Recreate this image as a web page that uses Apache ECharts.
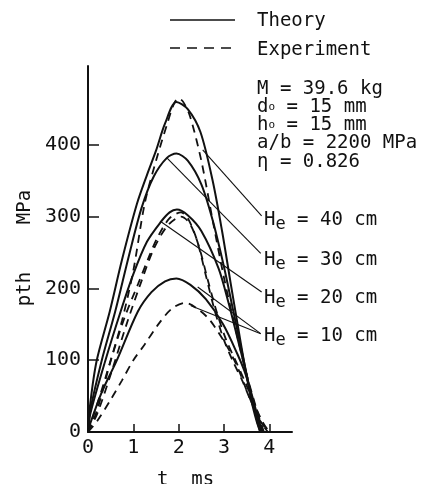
<!DOCTYPE html>
<html>
<head>
<meta charset="utf-8">
<script src="https://cdn.jsdelivr.net/npm/echarts@6/dist/echarts.min.js"></script>
<style>
  html, body { margin: 0; padding: 0; background: #fff; }
  #chart { width: 422px; height: 484px; }
</style>
</head>
<body>
<div id="chart"></div>
<script>
// t (ms), p_th (MPa)
var theory40 = [[0,0],[0.05,40],[0.19,99],[0.48,168],[0.75,240],[1.08,318],[1.3,358],[1.5,392],[1.7,430],[1.95,460],[2.2,450],[2.48,418],[2.75,350],[2.96,279],[3.14,210],[3.3,150],[3.45,95],[3.6,45],[3.72,15],[3.8,0]];
var theory30 = [[0,0],[0.05,30],[0.3,99],[0.6,168],[0.9,245],[1.18,312],[1.45,356],[1.74,382],[1.95,388],[2.2,378],[2.5,345],[2.75,295],[3.0,230],[3.2,170],[3.45,95],[3.6,50],[3.72,18],[3.8,0]];
var theory20 = [[0,0],[0.05,25],[0.38,99],[0.72,168],[1.0,220],[1.3,265],[1.61,293],[1.8,306],[1.96,310],[2.2,302],[2.5,280],[2.88,228],[3.1,180],[3.3,130],[3.45,92],[3.6,52],[3.72,20],[3.82,0]];
var theory10 = [[0,0],[0.05,12],[0.3,55],[0.63,99],[1.1,168],[1.4,195],[1.7,210],[1.95,214],[2.26,205],[2.6,185],[2.98,150],[3.3,108],[3.45,85],[3.6,55],[3.75,20],[3.85,0]];

var exp40 = [[0,0],[0.25,48],[0.5,100],[0.75,155],[1.0,225],[1.25,318],[1.5,378],[1.75,430],[1.9,458],[2.0,465],[2.1,460],[2.25,440],[2.5,378],[2.75,295],[3.0,215],[3.25,145],[3.5,80],[3.75,25],[3.88,0]];
var exp30 = [[0,0],[0.2,30],[0.5,99],[0.81,160],[1.11,207],[1.35,245],[1.54,272],[1.8,298],[2.05,306],[2.2,298],[2.4,268],[2.6,218],[2.8,168],[3.0,128],[3.2,98],[3.4,72],[3.6,42],[3.8,15],[3.97,0]];
var exp20 = [[0,0],[0.2,25],[0.5,80],[0.85,150],[1.15,205],[1.45,255],[1.75,287],[2.05,300],[2.25,290],[2.45,258],[2.65,210],[2.85,165],[3.05,128],[3.25,100],[3.45,72],[3.65,42],[3.85,14],[4.0,0]];
var exp10 = [[0,0],[0.2,15],[0.5,45],[0.75,72],[1.0,100],[1.25,122],[1.55,150],[1.85,172],[2.15,180],[2.45,170],[2.7,155],[3.07,119],[3.3,90],[3.55,50],[3.8,15],[4.0,0]];

var xTicks = [0, 1, 2, 3, 4];
var yTicks = [0, 100, 200, 300, 400];

// leader lines: [from, to] in data units
var leaders = [
    [[2.53, 393], [3.83, 301]],
    [[1.74, 382], [3.81, 249]],
    [[1.61, 293], [3.83, 195]],
    [[2.42, 202], [3.81, 137]],
    [[2.27, 176], [3.81, 137]]
];

var heLabels = ['40', '30', '20', '10'];
var paramLines = [
    '{a|M = 39.6 kg}',
    '{a|d}{o|o}{a| = 15 mm}',
    '{a|h}{o|o}{a| = 15 mm}',
    '{a|a/b = 2200 MPa}',
    '{a|η = 0.826}'
];

var FONT = '"DejaVu Sans Mono", monospace';
var INK = '#111';

var chart = echarts.init(document.getElementById('chart'));

function curve(data, dashed) {
    return {
        type: 'line',
        data: data,
        smooth: 0.3,
        symbol: 'none',
        silent: true,
        lineStyle: {
            color: INK,
            width: dashed ? 1.8 : 2,
            type: dashed ? [8, 6] : 'solid'
        }
    };
}

var series = [
    curve(theory40, false), curve(theory30, false), curve(theory20, false), curve(theory10, false),
    curve(exp40, true), curve(exp30, true), curve(exp20, true), curve(exp10, true)
];

// leader lines as markLine on an empty series
series.push({
    type: 'line',
    data: [],
    markLine: {
        silent: true,
        symbol: 'none',
        label: { show: false },
        lineStyle: { color: INK, width: 1.1, type: 'solid' },
        data: leaders.map(function (l) {
            return [{ coord: l[0] }, { coord: l[1] }];
        })
    }
});

var graphics = [];
// legend
graphics.push({ type: 'line', shape: { x1: 170, y1: 20, x2: 235, y2: 20 }, style: { stroke: INK, lineWidth: 1.5 } });
graphics.push({ type: 'line', shape: { x1: 170, y1: 48, x2: 235, y2: 48 }, style: { stroke: INK, lineWidth: 1.5, lineDash: [10, 7] } });
graphics.push({ type: 'text', x: 257, y: 21, style: { text: 'Theory', font: '19px ' + FONT, fill: INK, verticalAlign: 'middle' } });
graphics.push({ type: 'text', x: 257, y: 50, style: { text: 'Experiment', font: '19px ' + FONT, fill: INK, verticalAlign: 'middle' } });

// parameter block
var paramY = [89, 107, 125, 143, 162];
paramLines.forEach(function (s, i) {
    graphics.push({
        type: 'text', x: 257, y: paramY[i],
        style: {
            text: s, fill: INK, verticalAlign: 'middle',
            rich: {
                a: { fontFamily: FONT, fontSize: 19, fill: INK },
                o: { fontFamily: FONT, fontSize: 11, fill: INK }
            }
        }
    });
});

// He labels
var heY = [221, 261, 299, 337];
heLabels.forEach(function (v, i) {
    graphics.push({
        type: 'text', x: 264, y: heY[i] - 12,
        style: {
            text: '{a|H}{e|e}{a| = ' + v + ' cm}', fill: INK,
            rich: {
                a: { fontFamily: FONT, fontSize: 19, lineHeight: 22, fill: INK },
                e: { fontFamily: FONT, fontSize: 17, lineHeight: 17, padding: [10, 0, 0, 0], fill: INK }
            }
        }
    });
});

// axis names
graphics.push({ type: 'text', x: 25, y: 289, rotation: Math.PI / 2, style: { text: 'pth', font: '19px ' + FONT, fill: INK, align: 'center', verticalAlign: 'middle' } });
graphics.push({ type: 'text', x: 25, y: 207, rotation: Math.PI / 2, style: { text: 'MPa', font: '19px ' + FONT, fill: INK, align: 'center', verticalAlign: 'middle' } });
graphics.push({ type: 'text', x: 157, y: 480, style: { text: 't  ms', font: '19px ' + FONT, fill: INK, verticalAlign: 'middle' } });

var option = {
    animation: false,
    backgroundColor: '#fff',
    grid: { left: 88, right: 130, top: 66, bottom: 52 },
    xAxis: {
        type: 'value',
        min: 0,
        max: 4.5,
        interval: 0.5,
        splitLine: { show: false },
        axisLine: { lineStyle: { color: INK, width: 2 } },
        axisTick: { inside: true, length: 8, customValues: xTicks, lineStyle: { color: INK, width: 1.5 } },
        axisLabel: { customValues: xTicks, margin: 6, color: INK, fontFamily: FONT, fontSize: 20 }
    },
    yAxis: {
        type: 'value',
        min: 0,
        max: 510,
        splitLine: { show: false },
        axisLine: { show: true, lineStyle: { color: INK, width: 2 } },
        axisTick: { show: true, inside: true, length: 11, customValues: yTicks, lineStyle: { color: INK, width: 1.5 } },
        axisLabel: { customValues: yTicks, margin: 7, color: INK, fontFamily: FONT, fontSize: 20 }
    },
    graphic: graphics,
    series: series
};

chart.setOption(option);
</script>
</body>
</html>
